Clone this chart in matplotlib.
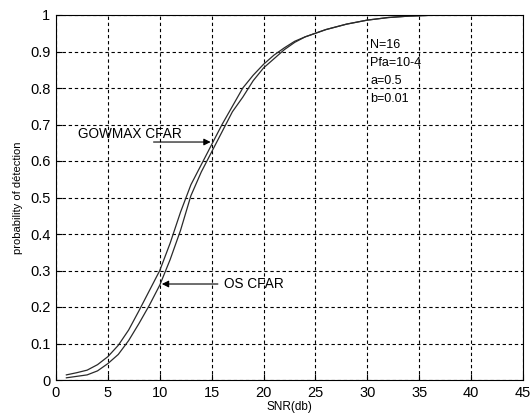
import matplotlib
matplotlib.use("Agg")
import matplotlib.pyplot as plt

plt.rcParams['font.family'] = ['Liberation Sans', 'DejaVu Sans']

# SNR in dB and detection probability for the two detectors
snr = [1, 2, 3, 4, 5, 6, 7, 8, 9, 10, 11, 12, 13, 14, 15, 16, 17, 18, 19,
       20, 21, 22, 23, 24, 25, 26, 28, 30, 32, 34, 36, 37.5]
pd_gowmax = [0.014, 0.020, 0.027, 0.042, 0.064, 0.095, 0.137, 0.190, 0.245,
             0.300, 0.375, 0.460, 0.535, 0.590, 0.645, 0.700, 0.750, 0.800,
             0.835, 0.865, 0.890, 0.910, 0.928, 0.940, 0.950, 0.960, 0.975,
             0.986, 0.993, 0.997, 0.999, 1.0]
pd_os = [0.006, 0.010, 0.014, 0.025, 0.045, 0.070, 0.108, 0.155, 0.205,
         0.260, 0.330, 0.410, 0.505, 0.570, 0.625, 0.680, 0.735, 0.775,
         0.820, 0.855, 0.880, 0.905, 0.925, 0.940, 0.950, 0.960, 0.975,
         0.986, 0.993, 0.997, 0.999, 1.0]

params = ["N=16", "Pfa=10-4", "a=0.5", "b=0.01"]

fig = plt.figure(figsize=(5.32, 4.17), dpi=100)
ax = fig.add_axes([56 / 532, 37 / 417, 467 / 532, 365 / 417])

ax.plot(snr, pd_gowmax, color='#2a2a2a', lw=0.9)
ax.plot(snr, pd_os, color='#2a2a2a', lw=0.9)

ax.set_xlim(0, 45)
ax.set_ylim(0, 1)
ax.set_xticks(range(0, 46, 5))
ax.set_yticks([i / 10 for i in range(11)])
ax.set_yticklabels(['0', '0.1', '0.2', '0.3', '0.4', '0.5', '0.6', '0.7',
                    '0.8', '0.9', '1'])
ax.grid(True, color='black', linestyle=(0, (3, 2.5)), linewidth=0.8)
ax.tick_params(direction='in', length=4, width=0.8, labelsize=10.5, pad=4)
for s in ax.spines.values():
    s.set_linewidth(0.8)

ax.set_xlabel('SNR(db)', fontsize=8.5, labelpad=1)
ax.set_ylabel('probability of détection', fontsize=8, labelpad=5)

ax.annotate('', xy=(14.9, 0.652), xytext=(9.4, 0.652),
            arrowprops=dict(arrowstyle='-|>', color='black', lw=0.8,
                            mutation_scale=10, shrinkA=0, shrinkB=0))
ax.text(2.1, 0.673, 'GOWMAX CFAR', fontsize=9.8, va='center', ha='left')

ax.annotate('', xy=(10.2, 0.263), xytext=(15.6, 0.263),
            arrowprops=dict(arrowstyle='-|>', color='black', lw=0.8,
                            mutation_scale=10, shrinkA=0, shrinkB=0))
ax.text(16.2, 0.263, 'OS CFAR', fontsize=9.8, va='center', ha='left')

# parameter block, one line every ~0.05 in probability
for i, line in enumerate(params):
    ax.text(30.3, 0.918 - i * 0.049, line, fontsize=9, va='center',
            ha='left')

fig.savefig('out.png', dpi=100)
